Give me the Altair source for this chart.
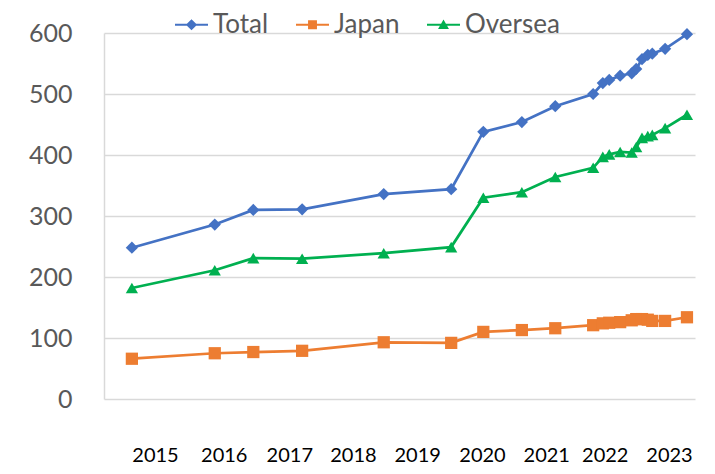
import altair as alt
import pandas as pd

# Dates as decimal years
x_dates = [2014.64, 2015.93, 2016.53, 2017.29, 2018.56, 2019.61, 2020.11, 2020.71,
           2021.23, 2021.82, 2021.97, 2022.07, 2022.24, 2022.42, 2022.49, 2022.58,
           2022.67, 2022.74, 2022.94, 2023.28]
total = [248, 286, 310, 311, 336, 344, 438, 454, 480, 500, 518, 523, 530, 534,
         541, 557, 564, 566, 574, 598]
japan = [66, 75, 77, 79, 93, 92, 110, 113, 116, 121, 124, 125, 126, 129, 131,
         131, 130, 128, 128, 134]
oversea = [182, 211, 231, 230, 239, 249, 330, 339, 364, 379, 397, 401, 405, 404,
           413, 428, 431, 433, 444, 466]

series = ["Total", "Japan", "Oversea"]
colors = ["#4472C4", "#ED7D31", "#00B050"]
markers = ["diamond", "square", "triangle-up"]
legend_paths = [
    "M-1,-0.055H1V0.055H-1Z M0,-0.34L0.34,0L0,0.34L-0.34,0Z",
    "M-1,-0.055H1V0.055H-1Z M-0.27,-0.27H0.27V0.27H-0.27Z",
    "M-1,-0.055H1V0.055H-1Z M0,-0.32L0.33,0.26H-0.33Z",
]

tick_values = [2015.0, 2016.07, 2017.09, 2018.08, 2019.08, 2020.09, 2021.09, 2022.0, 2023.0]
tick_labels = ["2015", "2016", "2017", "2018", "2019", "2020", "2021", "2022", "2023"]
y_ticks = [0, 100, 200, 300, 400, 500, 600]

rows = []
for name, vals, mk in zip(series, [total, japan, oversea], markers):
    for xv, v in zip(x_dates, vals):
        rows.append({"x": xv, "value": v, "series": name, "marker": mk})
df = pd.DataFrame(rows)

label_expr = " : ".join(
    f"abs(datum.value - {v}) < 0.001 ? '{l}'" for v, l in zip(tick_values, tick_labels)
) + " : ''"

color_scale = alt.Scale(domain=series, range=colors)

x_enc = alt.X("x:Q", scale=alt.Scale(domain=[2014.206, 2023.405], nice=False, zero=False),
              axis=alt.Axis(values=tick_values, labelExpr=label_expr, grid=False, domain=False,
                            ticks=False, labelFont="Lato", labelFontSize=20, labelColor="#000000",
                            labelPadding=46, title=None, labelFlush=False, labelOverlap=False))
y_enc = alt.Y("value:Q", scale=alt.Scale(domain=[0, 600], nice=False),
              axis=alt.Axis(values=y_ticks, grid=True, gridColor="#d9d9d9", gridWidth=1.3,
                            domain=True, domainColor="#d9d9d9", domainWidth=1.5, ticks=False,
                            labelFont="Lato", labelFontSize=25, labelColor="#595959",
                            labelPadding=32, title=None))

leg = alt.Legend(orient="none", legendX=71, legendY=-25, direction="horizontal", title=None,
                 labelFont="Lato", labelFontSize=26, labelColor="#595959", symbolSize=1089,
                 symbolStrokeWidth=0, labelOffset=5, columnPadding=27, symbolOpacity=1)
legend_layer = alt.Chart(df).transform_filter("false").mark_point(filled=True).encode(
    x=x_enc, y=y_enc,
    color=alt.Color("series:N", scale=color_scale, legend=leg),
    shape=alt.Shape("series:N", scale=alt.Scale(domain=series, range=legend_paths), legend=leg),
)

base = alt.Chart(df).encode(
    x=x_enc, y=y_enc,
    color=alt.Color("series:N", scale=color_scale, legend=None),
    detail="series:N",
)
lines = base.mark_line(strokeWidth=2.75)
points = base.mark_point(filled=True, size=150, opacity=1).encode(
    shape=alt.Shape("marker:N", scale=None)
)

chart = alt.layer(legend_layer, lines, points).properties(
    width=591, height=366,
    autosize=alt.AutoSizeParams(type="none"),
    padding={"left": 96, "top": 25, "right": 12, "bottom": 72},
).configure_view(stroke=None)

chart.save("out.html", embed_options={"renderer": "svg", "actions": False})
